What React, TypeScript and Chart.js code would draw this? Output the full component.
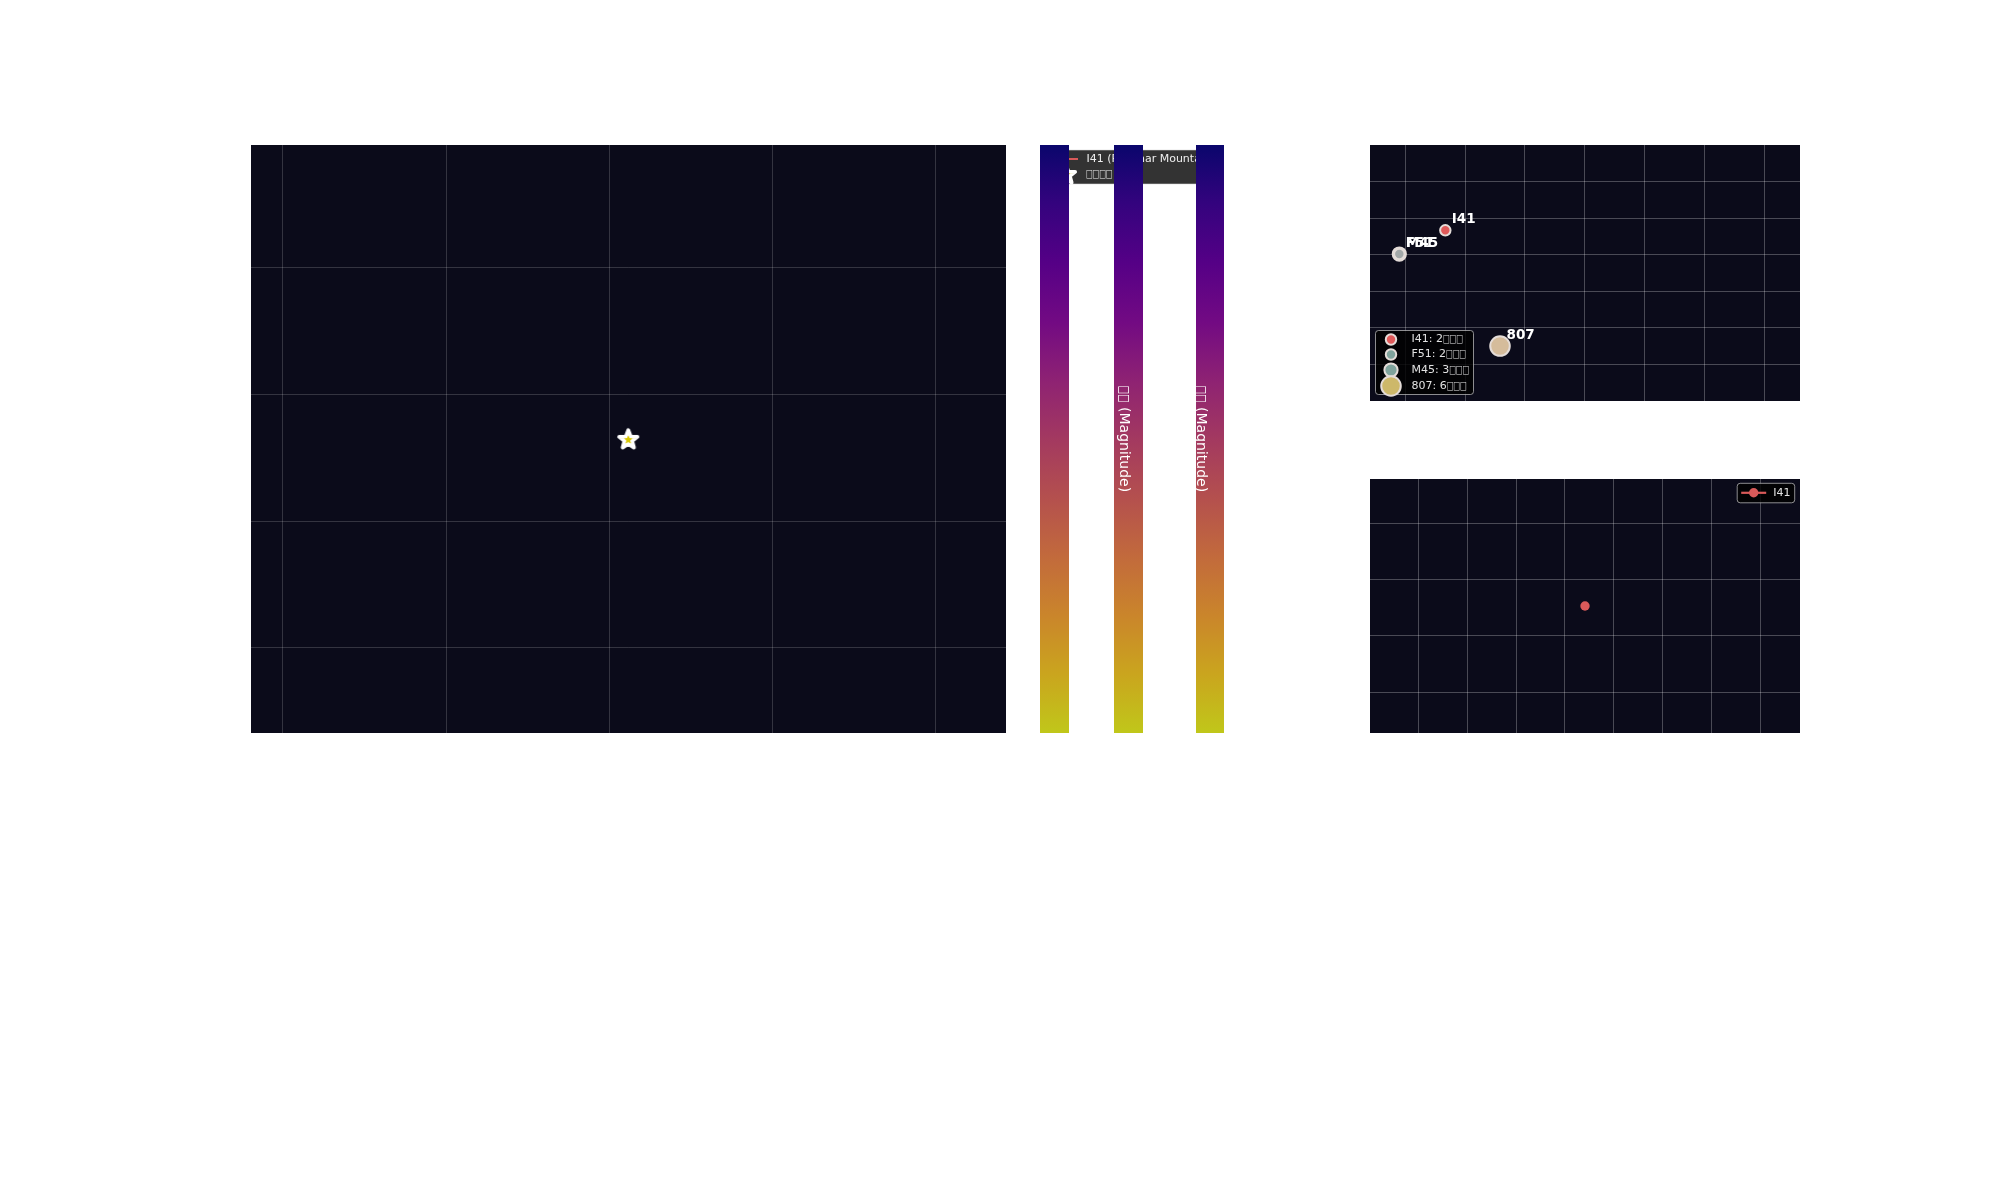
import React, { useEffect, useRef } from "react";
import { Chart, registerables } from "chart.js";

Chart.register(...registerables);
Chart.defaults.font.family = "'DejaVu Sans', sans-serif";

// ================= DATA =================
// main panel: single target position
const mainGridX = [-2, -1, 0, 1, 2];
const mainGridY = [-1, 0, 1, 2];
const targetX = [0.115];
const targetY = [0.65];
const mainLegendLabels = ["I41 (Palomar Mountain)", "□□□□"];

// colorbars
const magnitudeLimits = [14, 22];
const colorbarLabels = ["", "□□ (Magnitude)", "□□ (Magnitude)"];

// station panel
const stationCodes = ["I41", "F51", "M45", "807"];
const stationX = [0.669, -0.1, -0.1, 1.583];
const stationY = [3.669, 3.02, 3.02, 0.5];
const stationCounts = [2, 2, 3, 6];
const stationLegendSuffix = "□□□";
const stationGridX = [0, 1, 2, 3, 4, 5, 6];
const stationGridY = [0, 1, 2, 3, 4, 5];

// series panel
const seriesLabel = "I41";
const seriesX = [3.412];
const seriesY = [1.532];
const seriesGridX = [0, 1, 2, 3, 4, 5, 6, 7];
const seriesGridY = [0, 1, 2, 3];

// ================= STYLE / LAYOUT =================
const PANEL_BG = "#0b0b1a";
const GRID_MAIN = "rgba(255,255,255,0.17)";
const GRID_SIDE = "rgba(255,255,255,0.26)";
const PLASMA_DIM = ["#0a066c", "#34037e", "#550086", "#720a83", "#8e2273", "#a33960", "#b4504e", "#c26a3c", "#ca852b", "#caa51e", "#c0c71a"];
const STATION_FILL = ["#e05a5a", "#a2a8a8", "#9aa3a2", "#d5bc9b"];
const STATION_LEGEND_FILL = ["#e05a5a", "#7fa39c", "#7fa39c", "#cdb86a"];
const STATION_EDGE = "#e4dcd8";
const SERIES_COLOR = "#d95a5a";

const MAIN_X_LIMITS = [-2.196, 2.429];
const MAIN_Y_LIMITS = [-1.671, 2.97];
const STATION_X_LIMITS = [-0.59, 6.597];
const STATION_Y_LIMITS = [-1.005, 6.005];
const SERIES_X_LIMITS = [-0.989, 7.813];
const SERIES_Y_LIMITS = [-0.7225, 3.786];

const COLORBARS = [
  { left: 1040, width: 29, labelOffset: 9 },
  { left: 1114, width: 29, labelOffset: 9.3 },
  { left: 1196, width: 28, labelOffset: 4.5 },
];

function gridScale(limits: number[], gridValues: number[], color: string) {
  return {
    type: "linear" as const,
    min: limits[0],
    max: limits[1],
    ticks: { display: false },
    grid: { color, lineWidth: 1, drawTicks: false },
    border: { display: false },
    afterBuildTicks: (s: any) => {
      s.ticks = gridValues.map((v) => ({ value: v }));
    },
  };
}

// text with missing-glyph boxes: boxes are drawn 0.6em wide, like the original render
const BOX_EM = 0.6;
function textRuns(text: string) {
  return text.split(/(□+)/).filter(Boolean).map((t) => ({ t, box: t[0] === "□" }));
}
function drawMixed(ctx: CanvasRenderingContext2D, text: string, x: number, y: number, size: number, weight = "normal", align = "left") {
  const runs = textRuns(text);
  ctx.font = `${weight} ${size}px 'DejaVu Sans'`;
  const widths = runs.map((r) => (r.box ? BOX_EM * size * r.t.length : ctx.measureText(r.t).width));
  const total = widths.reduce((s, w) => s + w, 0);
  let cx = align === "center" ? x - total / 2 : x;
  ctx.textAlign = "left";
  runs.forEach((r, i) => {
    if (r.box) {
      const natural = ctx.measureText(r.t).width;
      ctx.save();
      ctx.translate(cx, y);
      ctx.scale(widths[i] / natural, 1);
      ctx.fillText(r.t, 0, 0);
      ctx.restore();
    } else {
      ctx.fillText(r.t, cx, y);
    }
    cx += widths[i];
  });
}

function roundRectPath(ctx: CanvasRenderingContext2D, x: number, y: number, w: number, h: number, r: number) {
  ctx.beginPath();
  ctx.moveTo(x + r, y);
  ctx.lineTo(x + w - r, y);
  ctx.arcTo(x + w, y, x + w, y + r, r);
  ctx.lineTo(x + w, y + h - r);
  ctx.arcTo(x + w, y + h, x + w - r, y + h, r);
  ctx.lineTo(x + r, y + h);
  ctx.arcTo(x, y + h, x, y + h - r, r);
  ctx.lineTo(x, y + r);
  ctx.arcTo(x, y, x + r, y, r);
  ctx.closePath();
}

function starPath(ctx: CanvasRenderingContext2D, cx: number, cy: number, r: number, ratio: number) {
  ctx.beginPath();
  for (let i = 0; i < 10; i++) {
    const rr = i % 2 === 0 ? r : r * ratio;
    const ang = -Math.PI / 2 + (i * Math.PI) / 5;
    const px = cx + rr * Math.cos(ang);
    const py = cy + rr * Math.sin(ang);
    if (i === 0) ctx.moveTo(px, py);
    else ctx.lineTo(px, py);
  }
  ctx.closePath();
}

function makeStarImage(): HTMLCanvasElement {
  const c = document.createElement("canvas");
  c.width = 28;
  c.height = 28;
  const ctx = c.getContext("2d")!;
  starPath(ctx, 14, 14.8, 9.6, 0.42);
  ctx.fillStyle = "#d9c800";
  ctx.fill();
  ctx.lineJoin = "round";
  ctx.lineWidth = 3.8;
  ctx.strokeStyle = "#ffffff";
  ctx.stroke();
  starPath(ctx, 14, 14.9, 4.4, 0.45);
  ctx.fillStyle = "#d9c800";
  ctx.fill();
  return c;
}

const panelBg = {
  id: "panelBg",
  beforeDraw(chart: any) {
    const { ctx, chartArea: a } = chart;
    ctx.save();
    ctx.fillStyle = PANEL_BG;
    ctx.fillRect(a.left, a.top, a.right - a.left, a.bottom - a.top);
    ctx.restore();
  },
};

const noInteraction = {
  responsive: false,
  animation: false as const,
  events: [] as any[],
};

function useChart(make: () => any) {
  const ref = useRef<HTMLCanvasElement>(null);
  useEffect(() => {
    const chart = new Chart(ref.current!, make());
    return () => chart.destroy();
  }, []);
  return ref;
}

function Panel({ left, top, width, height, make }: any) {
  const ref = useChart(make);
  return (
    <canvas
      ref={ref}
      width={width}
      height={height}
      style={{ position: "absolute", left, top, width, height, display: "block" }}
    />
  );
}

// ---------- main chart ----------
function makeMain() {
  const starImg = makeStarImage();
  const legendPlugin = {
    id: "mainLegend",
    afterDraw(chart: any) {
      const { ctx, chartArea: a } = chart;
      const bx = a.right + 44;
      const by = a.top + 5;
      ctx.save();
      roundRectPath(ctx, bx, by, 170, 34, 3);
      ctx.fillStyle = "#333333";
      ctx.fill();
      ctx.lineWidth = 1;
      ctx.strokeStyle = "rgba(215,215,215,0.55)";
      ctx.stroke();
      ctx.textBaseline = "middle";
      ctx.fillStyle = "#eeeeee";
      // row 1: I41 line
      ctx.strokeStyle = SERIES_COLOR;
      ctx.lineWidth = 2;
      ctx.beginPath();
      ctx.moveTo(bx + 6, by + 9);
      ctx.lineTo(bx + 28, by + 9);
      ctx.stroke();
      drawMixed(ctx, mainLegendLabels[0], bx + 36.5, by + 9.5, 11);
      // row 2: star
      ctx.drawImage(starImg, bx + 16 - 14, by + 24 - 14);
      drawMixed(ctx, mainLegendLabels[1], bx + 36, by + 24, 11);
      ctx.restore();
    },
  };
  return {
    type: "scatter",
    data: {
      datasets: [
        {
          label: mainLegendLabels[1],
          data: targetX.map((x, i) => ({ x, y: targetY[i] })),
          pointStyle: starImg,
          pointRadius: 12,
          pointHoverRadius: 12,
        },
      ],
    },
    options: {
      ...noInteraction,
      layout: { autoPadding: false, padding: { left: 0, top: 0, bottom: 0, right: 234 } },
      plugins: { legend: { display: false }, tooltip: { enabled: false } },
      scales: {
        x: gridScale(MAIN_X_LIMITS, mainGridX, GRID_MAIN),
        y: gridScale(MAIN_Y_LIMITS, mainGridY, GRID_MAIN),
      },
    },
    plugins: [panelBg, legendPlugin],
  };
}

// ---------- colorbars ----------
function makeColorbar(idx: number) {
  const label = colorbarLabels[idx];
  const offset = COLORBARS[idx].labelOffset;
  const labelPlugin = {
    id: "cbLabel",
    afterDraw(chart: any) {
      if (!label) return;
      const { ctx, chartArea: a } = chart;
      ctx.save();
      ctx.translate(a.left + offset, (a.top + a.bottom) / 2);
      ctx.rotate(Math.PI / 2);
      ctx.fillStyle = "#ffffff";
      ctx.textBaseline = "middle";
      drawMixed(ctx, label, 0, 0, 14, "normal", "center");
      ctx.restore();
    },
  };
  return {
    type: "bar",
    data: {
      labels: [""],
      datasets: [
        {
          data: [magnitudeLimits],
          borderWidth: 0,
          barPercentage: 1,
          categoryPercentage: 1,
          backgroundColor: (c: any) => {
            const { ctx, chartArea } = c.chart;
            if (!chartArea) return PLASMA_DIM[0];
            const g = ctx.createLinearGradient(0, chartArea.top, 0, chartArea.bottom);
            PLASMA_DIM.forEach((col, i) => g.addColorStop(i / (PLASMA_DIM.length - 1), col));
            return g;
          },
        },
      ],
    },
    options: {
      ...noInteraction,
      layout: { autoPadding: false, padding: 0 },
      plugins: { legend: { display: false }, tooltip: { enabled: false } },
      scales: {
        x: { display: false },
        y: { display: false, min: magnitudeLimits[0], max: magnitudeLimits[1], reverse: true },
      },
    },
    plugins: [labelPlugin],
  };
}

// ---------- station chart ----------
function stationRadius(n: number) {
  return 4.4 * Math.sqrt(n) - 1;
}

function makeStations() {
  const labelsPlugin = {
    id: "stationLabels",
    afterDatasetsDraw(chart: any) {
      const { ctx } = chart;
      ctx.save();
      ctx.font = "bold 13.5px 'DejaVu Sans'";
      ctx.fillStyle = "#ffffff";
      ctx.textBaseline = "alphabetic";
      stationCodes.forEach((code, i) => {
        const el = chart.getDatasetMeta(i).data[0];
        if (!el) return;
        ctx.fillText(code, el.x + 6.5, el.y - 7);
      });
      ctx.restore();
    },
  };
  const legendPlugin = {
    id: "stationLegend",
    afterDraw(chart: any) {
      const { ctx, chartArea: a } = chart;
      const bx = a.left + 5.5;
      const by = a.top + 185.5;
      const rows = [9, 24, 39.5, 55.5];
      ctx.save();
      roundRectPath(ctx, bx, by, 98, 64, 3);
      ctx.fillStyle = "rgba(0,0,0,0.82)";
      ctx.fill();
      ctx.lineWidth = 1;
      ctx.strokeStyle = "rgba(200,200,200,0.7)";
      ctx.stroke();
      ctx.textBaseline = "middle";
      stationCodes.forEach((code, i) => {
        const y = by + rows[i];
        ctx.beginPath();
        ctx.arc(bx + 15.5, y, stationRadius(stationCounts[i]), 0, Math.PI * 2);
        ctx.fillStyle = STATION_LEGEND_FILL[i];
        ctx.fill();
        ctx.lineWidth = 2;
        ctx.strokeStyle = STATION_EDGE;
        ctx.stroke();
        ctx.fillStyle = "#e2e2e2";
        drawMixed(ctx, `${code}: ${stationCounts[i]}${stationLegendSuffix}`, bx + 36, y, 11);
      });
      ctx.restore();
    },
  };
  return {
    type: "scatter",
    data: {
      datasets: stationCodes.map((code, i) => ({
        label: `${code}: ${stationCounts[i]}${stationLegendSuffix}`,
        data: [{ x: stationX[i], y: stationY[i] }],
        pointRadius: stationRadius(stationCounts[i]),
        pointHoverRadius: stationRadius(stationCounts[i]),
        backgroundColor: STATION_FILL[i],
        borderColor: STATION_EDGE,
        borderWidth: 2,
      })),
    },
    options: {
      ...noInteraction,
      layout: { autoPadding: false, padding: 0 },
      plugins: { legend: { display: false }, tooltip: { enabled: false } },
      scales: {
        x: gridScale(STATION_X_LIMITS, stationGridX, GRID_SIDE),
        y: gridScale(STATION_Y_LIMITS, stationGridY, GRID_SIDE),
      },
    },
    plugins: [panelBg, labelsPlugin, legendPlugin],
  };
}

// ---------- series chart ----------
function makeSeries() {
  const legendPlugin = {
    id: "seriesLegend",
    afterDraw(chart: any) {
      const { ctx, chartArea: a } = chart;
      const bw = 57.5;
      const bx = a.right - 5.3 - bw;
      const by = a.top + 4.3;
      const cy = by + 9.5;
      ctx.save();
      roundRectPath(ctx, bx, by, bw, 19.5, 3);
      ctx.fillStyle = "rgba(0,0,0,0.82)";
      ctx.fill();
      ctx.lineWidth = 1;
      ctx.strokeStyle = "rgba(200,200,200,0.7)";
      ctx.stroke();
      ctx.strokeStyle = SERIES_COLOR;
      ctx.lineWidth = 2.2;
      ctx.beginPath();
      ctx.moveTo(bx + 4, cy);
      ctx.lineTo(bx + 29, cy);
      ctx.stroke();
      ctx.beginPath();
      ctx.arc(bx + 16.5, cy, 4.7, 0, Math.PI * 2);
      ctx.fillStyle = SERIES_COLOR;
      ctx.fill();
      ctx.textBaseline = "middle";
      ctx.fillStyle = "#e2e2e2";
      drawMixed(ctx, seriesLabel, bx + 36, cy, 11);
      ctx.restore();
    },
  };
  return {
    type: "line",
    data: {
      datasets: [
        {
          label: seriesLabel,
          data: seriesX.map((x, i) => ({ x, y: seriesY[i] })),
          borderColor: SERIES_COLOR,
          backgroundColor: SERIES_COLOR,
          borderWidth: 2,
          pointRadius: 4.7,
          pointHoverRadius: 4.7,
          pointBorderWidth: 0,
        },
      ],
    },
    options: {
      ...noInteraction,
      layout: { autoPadding: false, padding: 0 },
      plugins: { legend: { display: false }, tooltip: { enabled: false } },
      scales: {
        x: gridScale(SERIES_X_LIMITS, seriesGridX, GRID_SIDE),
        y: gridScale(SERIES_Y_LIMITS, seriesGridY, GRID_SIDE),
      },
    },
    plugins: [panelBg, legendPlugin],
  };
}

export default function App() {
  return (
    <div style={{ position: "absolute", left: 0, top: 0, width: 2000, height: 1200, background: "#ffffff", overflow: "hidden" }}>
      <Panel left={251} top={145} width={989} height={588} make={makeMain} />
      {COLORBARS.map((cb, i) => (
        <Panel key={i} left={cb.left} top={145} width={cb.width} height={588} make={() => makeColorbar(i)} />
      ))}
      <Panel left={1370} top={145} width={430} height={256} make={makeStations} />
      <Panel left={1370} top={479} width={430} height={254} make={makeSeries} />
    </div>
  );
}
